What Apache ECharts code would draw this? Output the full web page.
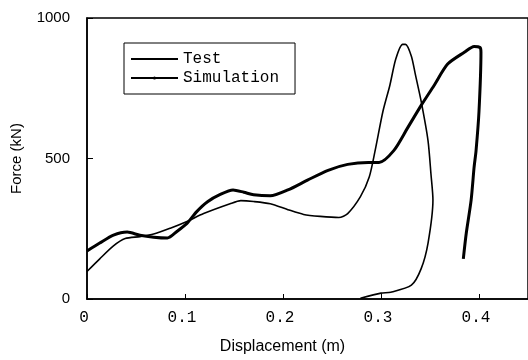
<!DOCTYPE html>
<html><head><meta charset="utf-8">
<script src="https://cdn.jsdelivr.net/npm/echarts@6/dist/echarts.min.js"></script>
<style>html,body{margin:0;padding:0;background:#fff}#c{width:528px;height:360px}</style>
</head><body><div id="c"></div>
<script>
const seriesNames = ['Test', 'Simulation'];
const xTicks = [0, 0.1, 0.2, 0.3, 0.4];
const yTicks = [0, 500, 1000];
// Test curve: [displacement (m), force (kN)]
const testData = [[0,171],[0.013,199],[0.027,227],[0.041,238],[0.054,227],[0.068,220],[0.082,217],[0.092,241],[0.102,269],[0.112,311],[0.123,346],[0.136,372],[0.149,388],[0.160,380],[0.170,371],[0.187,367],[0.205,388],[0.225,423],[0.246,458],[0.266,479],[0.287,486],[0.298,486],[0.313,528],[0.327,608],[0.341,689],[0.354,759],[0.368,836],[0.385,878],[0.395,899],[0.401,895],[0.402,878],[0.400,668],[0.397,528],[0.395,469],[0.392,353],[0.387,234],[0.384,143]];
// Simulation curve
const simData = [[0,98],[0.013,143],[0.027,189],[0.039,215],[0.054,222],[0.068,231],[0.085,252],[0.102,276],[0.119,304],[0.146,339],[0.157,350],[0.170,347],[0.187,339],[0.205,318],[0.221,301],[0.238,294],[0.257,290],[0.266,304],[0.279,364],[0.288,434],[0.294,528],[0.302,668],[0.309,760],[0.315,853],[0.322,906],[0.325,906],[0.331,864],[0.335,800],[0.341,703],[0.348,563],[0.351,444],[0.353,353],[0.348,199],[0.341,108],[0.331,49],[0.310,24],[0.300,21],[0.279,3]];

const chart = echarts.init(document.getElementById('c'), null, {renderer: 'canvas'});
chart.setOption({
  animation: false,
  backgroundColor: '#fff',
  grid: {left: 87, top: 18, width: 441, height: 286, show: true, borderColor: '#000', borderWidth: 1.5, backgroundColor: 'transparent'},
  legend: {
    left: 124, top: 43, orient: 'vertical',
    data: [{name: seriesNames[0], itemStyle: {opacity: 0}}, {name: seriesNames[1]}],
    borderColor: '#000', borderWidth: 1, borderRadius: 0,
    padding: [8, 16, 8, 6],
    itemWidth: 47, itemHeight: 4, itemGap: 3, itemTextGap: 3,
    textStyle: {fontFamily: 'Liberation Mono', fontSize: 16, color: '#000'}
  },
  xAxis: {
    type: 'value', min: 0, max: 0.45, interval: 0.1,
    name: 'Displacement (m)', nameLocation: 'middle', nameGap: 40,
    nameTextStyle: {fontFamily: 'Liberation Sans', fontSize: 16, color: '#000', padding: [0, 50, 0, 0]},
    axisLine: {show: true, lineStyle: {color: '#000', width: 1.5}},
    axisTick: {show: true, inside: true, length: 5, lineStyle: {color: '#000'}},
    splitLine: {show: false},
    axisLabel: {
      margin: 11, color: '#000', fontFamily: 'Liberation Mono', fontSize: 16, showMaxLabel: false, padding: [0, 6, 0, 0],
      formatter: v => { const t = xTicks.find(k => Math.abs(k - v) < 1e-6); return t === undefined ? '' : (t === 0 ? '0' : t.toFixed(1)); }
    }
  },
  yAxis: {
    type: 'value', min: 0, max: 1000, interval: 500,
    name: 'Force (kN)', nameLocation: 'middle', nameGap: 63,
    nameTextStyle: {fontFamily: 'Liberation Sans', fontSize: 15, color: '#000'},
    axisLine: {show: true, lineStyle: {color: '#000', width: 1.5}},
    axisTick: {show: true, inside: true, length: 6, lineStyle: {color: '#000'}},
    splitLine: {show: false},
    axisLabel: {margin: 17, color: '#000', fontFamily: 'Liberation Sans', fontSize: 15,
      formatter: v => yTicks.includes(v) ? String(v) : ''}
  },
  series: [
    {name: seriesNames[0], type: 'line', data: testData, smooth: 0.25, symbol: 'none',
     lineStyle: {color: '#000', width: 3}, itemStyle: {color: '#000'}},
    {name: seriesNames[1], type: 'line', data: simData, smooth: 0.25, symbol: 'circle', symbolSize: 3, showSymbol: false,
     lineStyle: {color: '#000', width: 1.6}, itemStyle: {color: '#000'}}
  ]
});
</script></body></html>
